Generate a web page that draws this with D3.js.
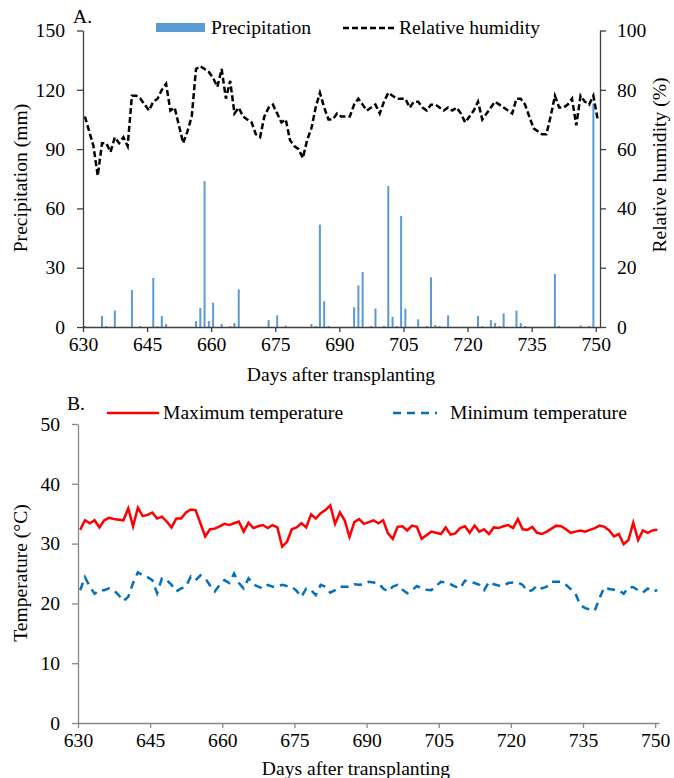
<!DOCTYPE html>
<html>
<head>
<meta charset="utf-8">
<script src="https://cdn.jsdelivr.net/npm/d3@7"></script>
<style>
  body { margin: 0; background: #fff; }
  text { font-family: "Liberation Serif", "Times New Roman", serif; fill: #000; }
</style>
</head>
<body>
<script>
// days after transplanting, one value per day starting at 630
const firstDay = 630;
const xTicks = [630, 645, 660, 675, 690, 705, 720, 735, 750];
const precipTicks = [0, 30, 60, 90, 120, 150];
const rhTicks = [0, 20, 40, 60, 80, 100];
const tempTicks = [0, 10, 20, 30, 40, 50];

const precipDays = [630, 634, 635, 637, 641, 643, 646, 647, 648, 649, 656, 657, 658, 659, 660, 662, 664, 665, 666,
  673, 675, 677, 683, 684, 685, 686, 687, 693, 694, 695, 697, 698, 700, 701, 702, 703, 704, 705, 708, 710, 711,
  712, 713, 715, 722, 723, 725, 726, 727, 728, 731, 732, 733, 740, 741, 746, 748, 749];
const precipMm = [0.5, 5.6, 0.5, 8.3, 18.7, 0.5, 24.8, 0.5, 5.6, 1.5, 3, 9.6, 73.8, 3, 12.3, 1.5, 0.5, 2, 19,
  3.5, 5.9, 0.7, 1.5, 0.5, 51.8, 13, 0.5, 10, 21, 27.8, 0.5, 9.3, 0.5, 71.3, 5.2, 0.5, 56.2, 9.3, 3.9, 0.5, 25.1,
  1, 0.5, 5.9, 5.6, 0.5, 3.5, 2, 0.5, 6.9, 8.3, 2, 0.5, 26.8, 0.5, 0.8, 0.5, 113];

const relHumidity = [
  71, 66, 61, 51, 62, 62, 59, 64, 62, 64,
  61, 78, 78, 77, 75, 73, 76, 77, 80, 82,
  73, 74, 68, 62, 66, 71, 87, 88, 87, 86,
  84, 81, 87, 77, 83, 72, 74, 71, 70, 69,
  65, 64, 71, 74, 75, 72, 69, 70, 63, 61,
  60, 57, 63, 67, 74, 79, 74, 70, 70, 72,
  71, 71, 71, 75, 77, 75, 73, 74, 75, 72,
  76, 79, 78, 77, 77, 77, 74, 76, 76, 74,
  73, 75, 75, 74, 73, 74, 73, 74, 72, 69,
  71, 73, 76, 70, 72, 74, 76, 75, 74, 73,
  72, 77, 77, 75, 71, 67, 66, 65, 65, 71,
  78, 74, 74, 75, 77, 68, 78, 76, 75, 78,
  70];

const maxTemp = [
  32.3, 33.9, 33.4, 33.9, 32.7, 33.9, 34.3, 34.1, 34.0, 33.9,
  35.9, 32.9, 36.0, 34.6, 34.8, 35.2, 34.2, 34.5, 33.7, 32.7,
  34.2, 34.2, 35.2, 35.7, 35.6, 33.4, 31.2, 32.4, 32.5, 32.9,
  33.3, 33.1, 33.4, 33.7, 32.0, 33.5, 32.6, 32.9, 33.1, 32.6,
  33.1, 32.7, 29.5, 30.3, 32.4, 32.7, 33.4, 32.7, 34.9, 34.2,
  35.1, 35.6, 36.4, 33.3, 35.2, 33.9, 31.1, 33.6, 34.1, 33.3,
  33.6, 33.9, 33.4, 33.9, 31.7, 30.8, 32.8, 32.9, 32.2, 33.0,
  32.8, 30.8, 31.4, 32.0, 31.8, 31.6, 32.7, 31.5, 31.7, 32.6,
  32.9, 31.8, 33.0, 32.0, 32.4, 31.6, 32.7, 32.6, 32.9, 33.1,
  32.6, 34.1, 32.4, 32.3, 32.8, 31.8, 31.6, 32.0, 32.5, 33.0,
  32.9, 32.4, 31.8, 32.0, 32.2, 32.0, 32.3, 32.6, 33.0, 32.8,
  32.2, 31.2, 31.6, 29.9, 30.6, 33.5, 30.6, 32.2, 31.8, 32.2,
  32.3];

const minTemp = [
  22.2, 24.4, 22.8, 21.6, 22.2, 22.2, 22.5, 22.2, 21.4, 20.4,
  21.1, 23.4, 25.2, 24.7, 24.4, 23.9, 21.7, 24.2, 23.9, 23.1,
  22.0, 22.5, 22.8, 24.5, 23.9, 24.7, 24.2, 23.0, 22.0, 23.1,
  23.9, 23.4, 25.0, 23.4, 22.5, 24.2, 23.2, 22.8, 22.5, 23.1,
  22.8, 22.8, 23.1, 22.9, 22.8, 22.1, 21.1, 22.5, 22.2, 21.4,
  23.1, 22.8, 21.8, 22.2, 22.8, 22.8, 22.8, 23.2, 23.1, 23.2,
  23.6, 23.5, 23.4, 22.5, 22.0, 22.8, 23.1, 22.3, 21.7, 22.2,
  22.9, 22.5, 22.3, 22.2, 22.9, 23.6, 23.5, 23.2, 22.8, 22.5,
  23.8, 23.6, 23.4, 23.1, 22.2, 23.6, 23.2, 23.0, 22.9, 23.4,
  23.5, 23.5, 23.1, 22.0, 22.2, 23.0, 22.5, 22.8, 23.6, 23.6,
  23.6, 23.1, 22.4, 21.6, 19.7, 19.2, 19.0, 18.8, 20.9, 22.7,
  22.4, 22.3, 22.2, 21.6, 22.7, 22.7, 22.2, 21.8, 22.5, 22.0,
  22.2];

const width = 674, height = 778;
const fs = "19.6px";

var svg = d3.select("body").append("svg")
  .attr("width", width)
  .attr("height", height);

// ---------- A. precipitation + relative humidity ----------
var xA = d3.scaleLinear().domain([630, 751]).range([83, 600]);
var yP = d3.scaleLinear().domain([0, 150]).range([327, 30.5]);
var yRH = d3.scaleLinear().domain([0, 100]).range([327, 30.5]);

let bars = precipDays.map((d, i) => ({day: d, mm: precipMm[i]}));
svg.append("g").selectAll("rect").data(bars).enter()
  .append("rect")
  .attr("x", d => xA(d.day + 0.45) - 1)
  .attr("y", d => yP(d.mm))
  .attr("width", 2)
  .attr("height", d => yP(0) - yP(d.mm))
  .attr("fill", "#5B9BD5");

let rhLine = d3.line()
  .x((d, i) => xA(firstDay + i + 0.45))
  .y(d => yRH(d));
svg.append("path").datum(relHumidity)
  .attr("d", rhLine)
  .attr("fill", "none")
  .attr("stroke", "#000")
  .attr("stroke-width", 2.5)
  .attr("stroke-dasharray", "6,3");

function styleAxis(g, col){
  g.selectAll("path, line").attr("stroke", col).attr("stroke-width", 1.3);
  g.selectAll("text").style("font-size", fs).style("font-family", "Liberation Serif").attr("fill", "#000");
}

svg.append("g").attr("transform", "translate(0,327)")
  .call(d3.axisBottom(xA).tickValues(xTicks).tickSize(5).tickPadding(5).tickSizeOuter(0))
  .call(g => styleAxis(g, "#404040"));
svg.append("g").attr("transform", "translate(83,0)")
  .call(d3.axisLeft(yP).tickValues(precipTicks).tickSize(6).tickPadding(12).tickSizeOuter(0))
  .call(g => styleAxis(g, "#404040"));
svg.append("g").attr("transform", "translate(600,0)")
  .call(d3.axisRight(yRH).tickValues(rhTicks).tickSize(6).tickPadding(11).tickSizeOuter(0))
  .call(g => styleAxis(g, "#404040"));

svg.append("text").attr("x", 73).attr("y", 23).style("font-size", fs).text("A.");
svg.append("text").attr("transform", "translate(27,178) rotate(-90)")
  .attr("text-anchor", "middle").style("font-size", fs).text("Precipitation (mm)");
svg.append("text").attr("transform", "translate(666,165) rotate(-90)")
  .attr("text-anchor", "middle").style("font-size", fs).text("Relative humidity (%)");
svg.append("text").attr("x", 341).attr("y", 381)
  .attr("text-anchor", "middle").style("font-size", fs).text("Days after transplanting");

// legend A
svg.append("rect").attr("x", 156).attr("y", 23).attr("width", 49).attr("height", 9).attr("fill", "#5B9BD5");
svg.append("text").attr("x", 211).attr("y", 34).style("font-size", fs).text("Precipitation");
svg.append("line").attr("x1", 343).attr("x2", 395).attr("y1", 28).attr("y2", 28)
  .attr("stroke", "#000").attr("stroke-width", 2.5).attr("stroke-dasharray", "6,3");
svg.append("text").attr("x", 399).attr("y", 34).style("font-size", fs).text("Relative humidity");

// ---------- B. temperature ----------
var xB = d3.scaleLinear().domain([630, 750.8]).range([78, 659]);
var yT = d3.scaleLinear().domain([0, 50]).range([723, 424]);

let tLine = d3.line()
  .x((d, i) => xB(firstDay + i + 0.45))
  .y(d => yT(d));

svg.append("path").datum(maxTemp)
  .attr("d", tLine)
  .attr("fill", "none")
  .attr("stroke", "#FF0000")
  .attr("stroke-width", 2.5);
svg.append("path").datum(minTemp)
  .attr("d", tLine)
  .attr("fill", "none")
  .attr("stroke", "#0070C0")
  .attr("stroke-width", 2.5)
  .attr("stroke-dasharray", "8,6");

svg.append("g").attr("transform", "translate(0,723)")
  .call(d3.axisBottom(xB).tickValues(xTicks).tickSize(5).tickPadding(5).tickSizeOuter(0))
  .call(g => styleAxis(g, "#888"));
svg.append("g").attr("transform", "translate(78,0)")
  .call(d3.axisLeft(yT).tickValues(tempTicks).tickSize(6).tickPadding(12).tickSizeOuter(0))
  .call(g => styleAxis(g, "#888"));

svg.append("text").attr("x", 67).attr("y", 410).style("font-size", fs).text("B.");
svg.append("text").attr("transform", "translate(27,573) rotate(-90)")
  .attr("text-anchor", "middle").style("font-size", fs).text("Temperature (°C)");
svg.append("text").attr("x", 356).attr("y", 775)
  .attr("text-anchor", "middle").style("font-size", fs).text("Days after transplanting");

// legend B
svg.append("line").attr("x1", 107).attr("x2", 159).attr("y1", 413).attr("y2", 413)
  .attr("stroke", "#FF0000").attr("stroke-width", 2.5);
svg.append("text").attr("x", 163).attr("y", 419).style("font-size", fs).text("Maximum temperature");
svg.append("line").attr("x1", 393).attr("x2", 437).attr("y1", 413).attr("y2", 413)
  .attr("stroke", "#0070C0").attr("stroke-width", 2.5).attr("stroke-dasharray", "8,6");
svg.append("text").attr("x", 450).attr("y", 419).style("font-size", fs).text("Minimum temperature");
</script>
</body>
</html>
